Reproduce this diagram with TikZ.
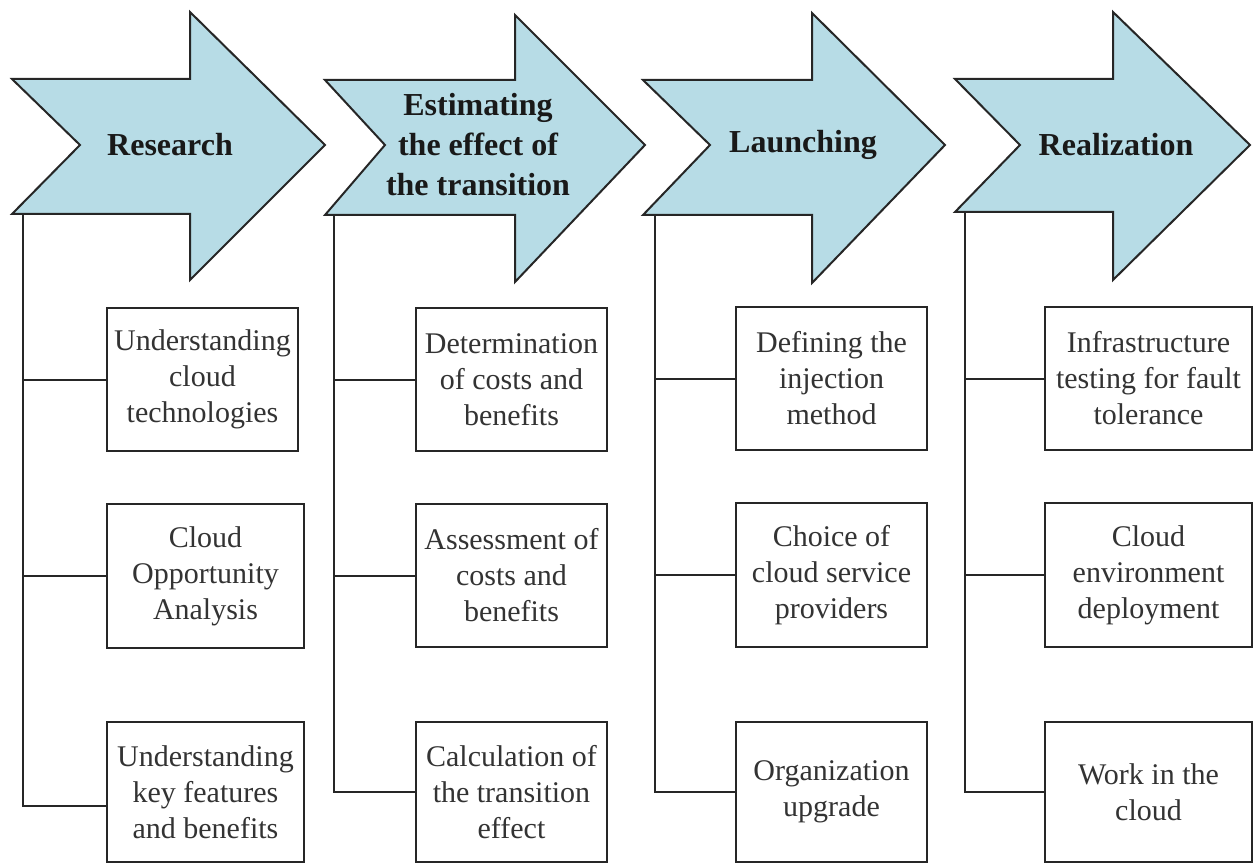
\documentclass[tikz,border=0pt]{standalone}
\usepackage{fontspec}
\setmainfont{Liberation Serif}
\begin{document}
\begin{tikzpicture}[x=1pt,y=-1pt,
  line width=2pt, line join=miter,
  stage/.style={draw=black!85, fill=arrowblue, line width=2pt},
  stagetext/.style={font=\fontsize{32}{40}\selectfont\bfseries, align=center, text=black!90, inner sep=0pt},
  taskbox/.style={draw=black!85, line width=2pt, fill=white, align=center, inner sep=0pt,
    font=\fontsize{30}{36}\selectfont, text=black!80},
  link/.style={draw=black!85, line width=2pt}
]
\definecolor{arrowblue}{RGB}{183,220,230}
\useasboundingbox (0,0) rectangle (1254,864);

% stage arrows
\draw[stage] (12,79) -- (190,79) -- (190,12) -- (325,145) -- (190,280) -- (190,214) -- (12,214) -- (80,145) -- cycle;
\draw[stage] (325,80) -- (515,80) -- (515,15) -- (645,145) -- (515,282) -- (515,215) -- (325,215) -- (385,145) -- cycle;
\draw[stage] (643,80) -- (812,80) -- (812,13) -- (945,145) -- (812,283) -- (812,215) -- (643,215) -- (710,145) -- cycle;
\draw[stage] (955,79) -- (1113,79) -- (1113,12) -- (1250,145) -- (1113,280) -- (1113,212) -- (955,212) -- (1020,145) -- cycle;

\node[stagetext] (s1) at (170,145) {Research};
\node[stagetext] (s2) at (478,145) {Estimating\\the effect of\\the transition};
\node[stagetext] (s3) at (803,145) {Launching};
\node[stagetext] (s4) at (1116,145) {Realization};

% spine start points under each arrow
\coordinate (r1) at (23,214);
\coordinate (r2) at (334,215);
\coordinate (r3) at (655,215);
\coordinate (r4) at (965,212);

% task boxes
\node[taskbox, minimum width=191, minimum height=143] (b11) at (202.5,379.5) {Understanding\\cloud\\technologies};
\node[taskbox, minimum width=197, minimum height=144] (b12) at (205.5,576) {Cloud\\Opportunity\\Analysis};
\node[taskbox, minimum width=197, minimum height=140] (b13) at (205.5,792) {Understanding\\key features\\and benefits};

\node[taskbox, minimum width=191, minimum height=143] (b21) at (511.5,379.5) {Determination\\of costs and\\benefits};
\node[taskbox, minimum width=191, minimum height=143] (b22) at (511.5,575.5) {Assessment of\\costs and\\benefits};
\node[taskbox, minimum width=191, minimum height=140] (b23) at (511.5,792) {Calculation of\\the transition\\effect};

\node[taskbox, minimum width=191, minimum height=143] (b31) at (831.5,378.5) {Defining the\\injection\\method};
\node[taskbox, minimum width=191, minimum height=144] (b32) at (831.5,575) {Choice of\\cloud service\\providers};
\node[taskbox, minimum width=191, minimum height=140] (b33) at (831.5,792) {Organization\\upgrade};

\node[taskbox, minimum width=207, minimum height=143] (b41) at (1148.5,378.5) {Infrastructure\\testing for fault\\tolerance};
\node[taskbox, minimum width=207, minimum height=144] (b42) at (1148.5,575) {Cloud\\environment\\deployment};
\node[taskbox, minimum width=207, minimum height=140] (b43) at (1148.5,792) {Work in the\\cloud};

% spines and branches
\draw[link] (r1) |- ([yshift=-14pt]b13.west);
\draw[link] (r1 |- b11.west) -- (b11.west);
\draw[link] (r1 |- b12.west) -- (b12.west);

\draw[link] (r2) |- (b23.west);
\draw[link] (r2 |- b21.west) -- (b21.west);
\draw[link] (r2 |- b22.west) -- (b22.west);

\draw[link] (r3) |- (b33.west);
\draw[link] (r3 |- b31.west) -- (b31.west);
\draw[link] (r3 |- b32.west) -- (b32.west);

\draw[link] (r4) |- (b43.west);
\draw[link] (r4 |- b41.west) -- (b41.west);
\draw[link] (r4 |- b42.west) -- (b42.west);
\end{tikzpicture}
\end{document}
